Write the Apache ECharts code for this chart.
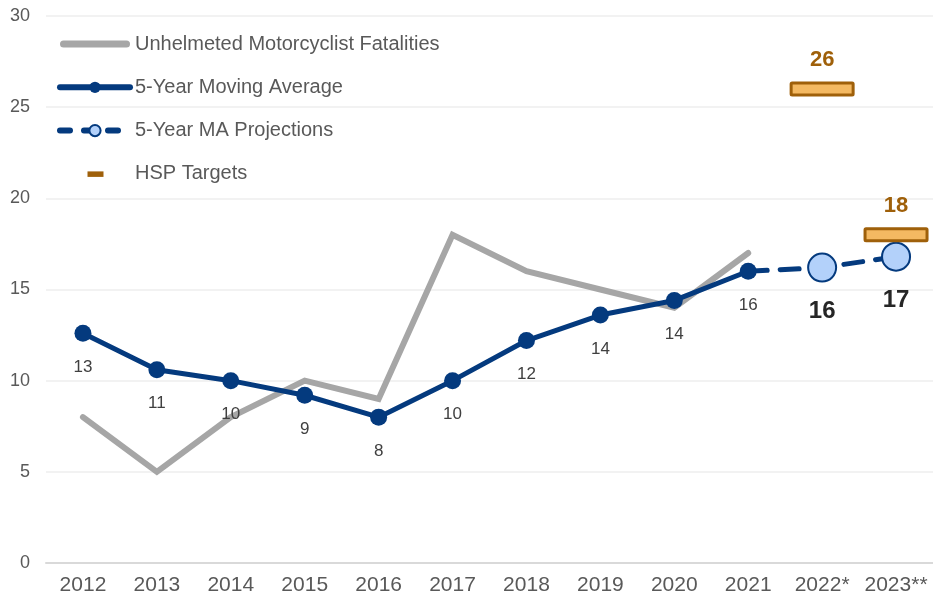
<!DOCTYPE html>
<html>
<head>
<meta charset="utf-8">
<script src="https://cdn.jsdelivr.net/npm/echarts@6/dist/echarts.min.js"></script>
<style>
html,body{margin:0;padding:0;background:#fff;}
#chart{width:933px;height:598px;}
</style>
</head>
<body>
<div id="chart"></div>
<script>
const categories = ['2012','2013','2014','2015','2016','2017','2018','2019','2020','2021','2022*','2023**'];
const fatalities = [8,5,8,10,9,18,16,15,14,17,null,null];
const movingAvg = [12.6,10.6,10,9.2,8,10,12.2,13.6,14.4,16,null,null];
const projections = [null,null,null,null,null,null,null,null,null,16,16.2,16.8];
const targets = [null,null,null,null,null,null,null,null,null,null,26,18];
const yTicks = {min:0, max:30, interval:5};

const FONT = "'Liberation Sans', Arial, sans-serif";
const BLUE = '#043A7E';
const GRAY = '#A6A6A6';
const GOLD = '#9F600A';
const GOLD_FILL = '#F4B962';

const projData = projections.map((v, i) => (i === 9 ? {value: v, symbolSize: 0, label: {show: false}} : v));
const targetData = targets.map((v, i) => [i, v]).filter(d => d[1] != null);

const chart = echarts.init(document.getElementById('chart'), null, {renderer: 'canvas'});
chart.setOption({
  animation: false,
  backgroundColor: '#fff',
  textStyle: {fontFamily: FONT},
  grid: {left: 46, right: -3, top: 16, bottom: 35, containLabel: false},
  legend: {
    orient: 'vertical',
    left: 52,
    top: 29,
    itemWidth: 70,
    itemHeight: 14,
    itemGap: 23.3,
    lineStyle: {width: 'inherit', cap: 'round'},
    textStyle: {fontFamily: FONT, fontSize: 20, color: '#595959', lineHeight: 20},
    data: [
      {name: 'Unhelmeted Motorcyclist Fatalities', icon: 'path://M0,0M70,14M3.5,3.5h63a3.5,3.5 0 0 1 0,7h-63a3.5,3.5 0 0 1 0,-7z'},
      {name: '5-Year Moving Average', lineStyle: {width: 6}},
      {name: '5-Year MA Projections', lineStyle: {width: 6, type: [10, 14]}},
      {name: 'HSP Targets', icon: 'path://M0,0M70,14M27.5,4.5h16v5.5h-16z', itemStyle: {color: GOLD, borderWidth: 0}}
    ]
  },
  xAxis: {
    type: 'category',
    data: categories,
    boundaryGap: true,
    axisLine: {lineStyle: {color: '#D9D9D9', width: 2}},
    axisTick: {show: false},
    axisLabel: {interval: 0, fontFamily: FONT, fontSize: 21, color: '#595959', margin: 12}
  },
  yAxis: {
    type: 'value',
    min: yTicks.min, max: yTicks.max, interval: yTicks.interval,
    axisLine: {show: false},
    axisTick: {show: false},
    splitLine: {lineStyle: {color: '#EEEEEE', width: 1.5}},
    axisLabel: {fontFamily: FONT, fontSize: 18, color: '#595959', margin: 16}
  },
  series: [
    {
      name: 'Unhelmeted Motorcyclist Fatalities',
      type: 'line',
      data: fatalities,
      symbol: 'none',
      z: 1,
      lineStyle: {color: GRAY, width: 6, cap: 'round', join: 'miter'},
      itemStyle: {color: GRAY}
    },
    {
      name: '5-Year MA Projections',
      type: 'line',
      data: projData,
      symbol: 'circle',
      symbolSize: 28,
      z: 2,
      lineStyle: {color: BLUE, width: 5, type: [19, 13], cap: 'round'},
      itemStyle: {color: '#B3D1FA', borderColor: BLUE, borderWidth: 2},
      label: {
        show: true, position: 'bottom', distance: 17,
        fontFamily: FONT, fontSize: 24, fontWeight: 'bold', color: '#262626',
        formatter: p => Math.round(p.value)
      }
    },
    {
      name: '5-Year Moving Average',
      type: 'line',
      data: movingAvg,
      symbol: 'circle',
      symbolSize: 17,
      z: 3,
      lineStyle: {color: BLUE, width: 5, cap: 'round'},
      itemStyle: {color: BLUE},
      label: {
        show: true, position: 'bottom', distance: 17,
        fontFamily: FONT, fontSize: 17, color: '#404040',
        formatter: p => Math.round(p.value)
      }
    },
    {
      name: 'HSP Targets',
      type: 'custom',
      data: targetData,
      z: 4,
      itemStyle: {color: GOLD},
      renderItem: function (params, api) {
        const c = api.coord([api.value(0), api.value(1)]);
        const w = 62, h = 12;
        return {
          type: 'rect',
          shape: {x: c[0] - w / 2, y: c[1] - h / 2, width: w, height: h, r: 1},
          style: {fill: GOLD_FILL, stroke: GOLD, lineWidth: 3},
          textContent: {
            style: {
              text: String(Math.round(api.value(1))),
              fill: GOLD,
              font: "bold 22px 'Liberation Sans', Arial, sans-serif"
            }
          },
          textConfig: {position: 'top', distance: 10}
        };
      }
    }
  ]
});
</script>
</body>
</html>
